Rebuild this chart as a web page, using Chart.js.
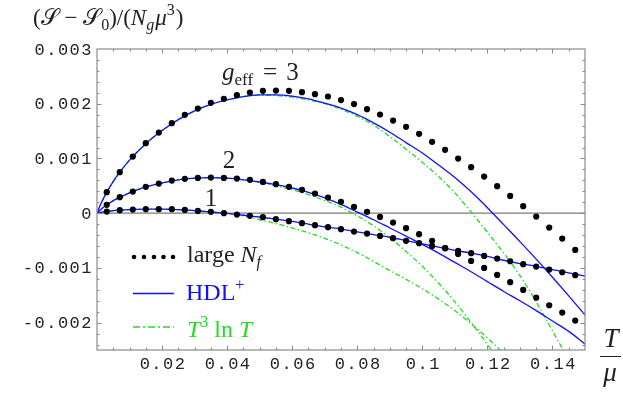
<!DOCTYPE html>
<html>
<head>
<meta charset="utf-8">
<script src="https://cdn.jsdelivr.net/npm/chart.js@4.4.1/dist/chart.umd.min.js"></script>
<style>
html, body { margin: 0; padding: 0; background: #fff; }
</style>
</head>
<body>
<canvas id="Graph" width="623" height="394"></canvas>
<script>
// T/mu values of the large-Nf points
const dotT = [0.003, 0.007, 0.011, 0.015, 0.019, 0.023, 0.027, 0.031, 0.035, 0.039,
              0.043, 0.047, 0.051, 0.055, 0.059, 0.063, 0.067, 0.071, 0.075, 0.079,
              0.083, 0.087, 0.091, 0.095, 0.099, 0.103, 0.107, 0.111, 0.115, 0.119,
              0.123, 0.127, 0.131, 0.135, 0.139, 0.143, 0.147];

// large Nf, g_eff = 3, 2, 1
const largeNf3 = [0.000384, 0.00075, 0.001035, 0.00128, 0.001473, 0.001645, 0.001797, 0.001912, 0.002016, 0.00209,
                  0.002157, 0.002205, 0.002236, 0.002241, 0.002236, 0.002212, 0.002175, 0.002132, 0.002066, 0.001993,
                  0.001901, 0.001803, 0.001693, 0.001578, 0.00145, 0.001303, 0.001157, 0.000998, 0.000841, 0.000669,
                  0.000494, 0.000316, 0.000128, -0.000062, -0.000263, -0.000464, -0.000671];
const largeNf2 = [0.000152, 0.000293, 0.000395, 0.000481, 0.000541, 0.000596, 0.000627, 0.000645, 0.000651, 0.000645,
                  0.000633, 0.000609, 0.000572, 0.00053, 0.000481, 0.000426, 0.000358, 0.000285, 0.000207, 0.000115,
                  0.000024, -0.000068, -0.000172, -0.000274, -0.000384, -0.000506, -0.00064, -0.000744, -0.000872, -0.001,
                  -0.001128, -0.001261, -0.001402, -0.001543, -0.001682, -0.001817, -0.001963];
const largeNf1 = [0.000029, 0.000055, 0.000066, 0.000073, 0.000073, 0.000073, 0.00006, 0.000042, 0.000024, 0.0,
                  -0.000026, -0.000049, -0.000073, -0.00011, -0.000146, -0.000183, -0.000219, -0.000256, -0.000293, -0.000336,
                  -0.000373, -0.000415, -0.000457, -0.000506, -0.000548, -0.000598, -0.00064, -0.000689, -0.000731, -0.000781,
                  -0.00083, -0.000878, -0.000932, -0.000976, -0.001031, -0.001079, -0.001133];

// sample points of the HDL+ and T^3 ln T curves
const curveT = [0, 0.001, 0.002, 0.003, 0.005, 0.007, 0.01, 0.015, 0.02, 0.025,
                0.03, 0.035, 0.04, 0.045, 0.05, 0.055, 0.06, 0.065, 0.07, 0.075,
                0.08, 0.085, 0.09, 0.095, 0.1, 0.105, 0.11, 0.115, 0.12, 0.125,
                0.13, 0.135, 0.14, 0.145, 0.15];

const hdl3 = [0, 0.00015, 0.00027, 0.00038, 0.00058, 0.00075, 0.00097, 0.00127, 0.00151, 0.00171,
              0.00187, 0.00199, 0.00207, 0.00213, 0.00216, 0.00216, 0.00214, 0.00209, 0.00201, 0.00192,
              0.0018, 0.00165, 0.00148, 0.00129, 0.0011, 0.00088, 0.00065, 0.00039, 0.0001, -0.00021,
              -0.00052, -0.00084, -0.00117, -0.00151, -0.00186];
const hdl2 = [0, 0.00006, 0.00011, 0.00015, 0.00023, 0.00029, 0.00037, 0.00048, 0.00055, 0.00061,
              0.00064, 0.00065, 0.00064, 0.00061, 0.00057, 0.00052, 0.00046, 0.00038, 0.00028, 0.00016,
              0.00002, -0.00012, -0.00027, -0.00042, -0.00057, -0.00073, -0.0009, -0.00107, -0.00125, -0.00143,
              -0.0016, -0.00178, -0.00197, -0.00216, -0.00239];
const hdl1 = [0, 0.000012, 0.000022, 0.00003, 0.000045, 0.000055, 0.000065, 0.000073, 0.000073, 0.000066,
              0.000047, 0.000024, -0.000005, -0.000038, -0.00007, -0.00011, -0.00015, -0.0002, -0.00025, -0.00029,
              -0.00034, -0.00039, -0.00044, -0.0005, -0.00056, -0.00062, -0.00068, -0.00073, -0.00079, -0.00086,
              -0.00092, -0.00097, -0.00103, -0.00109, -0.00115];

const tlog3 = [0, 0.00015, 0.00027, 0.00038, 0.00058, 0.00075, 0.00097, 0.00127, 0.00151, 0.00171,
               0.00187, 0.00199, 0.00207, 0.00213, 0.00216, 0.00215, 0.00212, 0.00207, 0.002, 0.0019,
               0.00177, 0.00161, 0.0014, 0.00117, 0.00093, 0.00067, 0.00037, 0.00002, -0.00035, -0.00073,
               -0.00114, -0.00162, -0.00215, -0.00268, null];
const tlog2 = [0, 0.00006, 0.00011, 0.00015, 0.00023, 0.00029, 0.00037, 0.00048, 0.00055, 0.00061,
               0.00064, 0.00065, 0.00064, 0.00061, 0.00056, 0.0005, 0.00043, 0.00034, 0.00023, 0.00011,
               -0.00005, -0.00023, -0.00045, -0.0007, -0.00097, -0.00128, -0.00162, -0.002, -0.0024, -0.00283,
               null, null, null, null, null];
const tlog1 = [0, 0.000012, 0.000022, 0.00003, 0.000045, 0.000055, 0.000065, 0.000073, 0.000073, 0.000066,
               0.000047, 0.000024, -0.000005, -0.00005, -0.00012, -0.00019, -0.00027, -0.00036, -0.00046, -0.00058,
               -0.00072, -0.00088, -0.00105, -0.00121, -0.00138, -0.00157, -0.00178, -0.00202, -0.00228, -0.00256,
               null, null, null, null, null];

// axis ticks
const xTicks = [0.02, 0.04, 0.06, 0.08, 0.1, 0.12, 0.14];
const xTickLabels = ['0.02', '0.04', '0.06', '0.08', '0.1', '0.12', '0.14'];
const yTicks = [-0.002, -0.001, 0, 0.001, 0.002, 0.003];
const yTickLabels = ['-0.002', '-0.001', '0', '0.001', '0.002', '0.003'];

const SERIF = '"Liberation Serif", "DejaVu Serif", serif';
const MONO = '"Liberation Mono", "DejaVu Sans Mono", monospace';
const BLUE = '#1010ff';
const GREEN = '#22dd22';

function pts(xs, ys) {
    return xs.map((x, i) => ({ x: x, y: ys[i] }));
}

// draws a run of text pieces one after the other
function drawRich(ctx, x, y, parts, color) {
    ctx.fillStyle = color;
    ctx.textBaseline = 'alphabetic';
    ctx.textAlign = 'left';
    for (const p of parts) {
        ctx.font = p.f;
        ctx.fillText(p.t, x + (p.dx || 0), y + (p.dy || 0));
        x += ctx.measureText(p.t).width + (p.dx || 0);
    }
}

const framePlugin = {
    id: 'frame',
    beforeDatasetsDraw(chart) {
        const ctx = chart.ctx;
        const a = chart.chartArea;
        const ys = chart.scales.y;
        ctx.save();
        ctx.strokeStyle = '#7a7a7a';
        ctx.lineWidth = 1.3;
        const y0 = ys.getPixelForValue(0);
        ctx.beginPath();
        ctx.moveTo(a.left, y0);
        ctx.lineTo(a.right, y0);
        ctx.stroke();
        ctx.restore();
    },
    afterDraw(chart) {
        const ctx = chart.ctx;
        const a = chart.chartArea;
        const xs = chart.scales.x;
        const ys = chart.scales.y;
        ctx.save();

        // frame
        ctx.strokeStyle = '#8a8a8a';
        ctx.lineWidth = 1.2;
        ctx.strokeRect(a.left, a.top, a.right - a.left, a.bottom - a.top);

        // tick marks on all four sides, pointing inward
        ctx.lineWidth = 1;
        ctx.beginPath();
        for (let i = 1; i < 30; i++) {
            const v = i * 0.005;
            const px = Math.round(xs.getPixelForValue(v)) + 0.5;
            const len = (i % 4 === 0) ? 4.5 : 2.5;
            ctx.moveTo(px, a.bottom); ctx.lineTo(px, a.bottom - len);
            ctx.moveTo(px, a.top); ctx.lineTo(px, a.top + len);
        }
        for (let i = -12; i < 15; i++) {
            const v = i * 0.0002;
            const py = Math.round(ys.getPixelForValue(v)) + 0.5;
            const len = (i % 5 === 0) ? 4.5 : 2.5;
            ctx.moveTo(a.left, py); ctx.lineTo(a.left + len, py);
            ctx.moveTo(a.right, py); ctx.lineTo(a.right - len, py);
        }
        ctx.stroke();

        // tick labels
        ctx.fillStyle = '#222';
        ctx.font = '17px ' + MONO;
        ctx.letterSpacing = '1.5px';
        ctx.textBaseline = 'middle';
        ctx.textAlign = 'right';
        yTicks.forEach((v, i) => {
            ctx.fillText(yTickLabels[i], 93, ys.getPixelForValue(v) + 1);
        });
        ctx.textAlign = 'center';
        xTicks.forEach((v, i) => {
            ctx.fillText(xTickLabels[i], xs.getPixelForValue(v) + 1, a.bottom + 14);
        });
        ctx.letterSpacing = '0px';

        // y axis title
        const f23 = '23px ' + SERIF, i23 = 'italic 23px ' + SERIF;
        const f16t = '16px ' + SERIF, i16t = 'italic 16px ' + SERIF;
        drawRich(ctx, 33, 25, [
            { t: '(', f: f23 }, { t: '\u{1D4AE}', f: f23 }, { t: ' \u2212 ', f: f23 },
            { t: '\u{1D4AE}', f: f23 }, { t: '0', f: f16t, dy: 5 }, { t: ')/(', f: f23 },
            { t: 'N', f: i23 }, { t: 'g', f: i16t, dy: 5 }, { t: '\u03BC', f: i23, dx: 1 },
            { t: '3', f: f16t, dy: -10 }, { t: ')', f: f23, dx: 1 }
        ], '#222');

        // x axis title T / mu
        ctx.fillStyle = '#222';
        ctx.font = 'italic 27px ' + SERIF;
        ctx.textAlign = 'center';
        ctx.textBaseline = 'alphabetic';
        ctx.fillText('T', 611, 347);
        ctx.fillText('\u03BC', 610, 381);
        ctx.strokeStyle = '#222';
        ctx.lineWidth = 1;
        ctx.beginPath();
        ctx.moveTo(600, 356.5); ctx.lineTo(621, 356.5);
        ctx.stroke();

        // curve labels
        const f25 = '25px ' + SERIF, i25 = 'italic 25px ' + SERIF, f17 = '17px ' + SERIF;
        drawRich(ctx, 222, 80, [
            { t: 'g', f: i25 }, { t: 'eff', f: f17, dy: 5 }, { t: '=', f: f25, dx: 10 }, { t: '3', f: f25, dx: 9 }
        ], '#222');
        ctx.font = f25;
        ctx.textAlign = 'center';
        ctx.fillText('2', 229, 168);
        ctx.fillText('1', 211, 206);

        // legend
        const f24 = '24px ' + SERIF, i24 = 'italic 24px ' + SERIF, f16 = '16px ' + SERIF, i16 = 'italic 16px ' + SERIF;
        ctx.fillStyle = '#000';
        [134, 144, 154, 163.5, 173].forEach(px => {
            ctx.beginPath();
            ctx.arc(px, 257, 2.3, 0, Math.PI * 2);
            ctx.fill();
        });
        drawRich(ctx, 187, 262, [
            { t: 'large ', f: f24 }, { t: 'N', f: i24 }, { t: 'f', f: i16, dy: 5 }
        ], '#222');

        ctx.strokeStyle = BLUE;
        ctx.lineWidth = 1.3;
        ctx.beginPath();
        ctx.moveTo(133, 293.5); ctx.lineTo(174, 293.5);
        ctx.stroke();
        drawRich(ctx, 186, 300, [
            { t: 'HDL', f: f24 }, { t: '+', f: f16, dy: -10 }
        ], BLUE);

        ctx.strokeStyle = GREEN;
        ctx.setLineDash([7, 3, 2, 3]);
        ctx.beginPath();
        ctx.moveTo(133, 327); ctx.lineTo(174, 327);
        ctx.stroke();
        ctx.setLineDash([]);
        drawRich(ctx, 187, 337, [
            { t: 'T', f: i24 }, { t: '3', f: f16, dy: -10 }, { t: ' ln ', f: f24 }, { t: 'T', f: i24 }
        ], GREEN);

        ctx.restore();
    }
};

function curve(ys, color, dashed) {
    return {
        data: pts(curveT, ys),
        showLine: true,
        borderColor: color,
        borderWidth: 1.3,
        borderDash: dashed ? [5, 2.5, 1.5, 2.5] : [],
        pointRadius: 0,
        cubicInterpolationMode: 'monotone',
        spanGaps: false,
        order: dashed ? 3 : 2
    };
}

function dots(ys) {
    return {
        data: pts(dotT, ys),
        showLine: false,
        pointRadius: 3.1,
        pointBackgroundColor: '#000',
        pointBorderWidth: 0,
        order: 1
    };
}

const ctx = document.getElementById('Graph').getContext('2d');
new Chart(ctx, {
    type: 'scatter',
    data: {
        datasets: [
            dots(largeNf3), dots(largeNf2), dots(largeNf1),
            curve(hdl3, BLUE, false), curve(hdl2, BLUE, false), curve(hdl1, BLUE, false),
            curve(tlog3, GREEN, true), curve(tlog2, GREEN, true), curve(tlog1, GREEN, true)
        ]
    },
    options: {
        responsive: false,
        animation: false,
        devicePixelRatio: 1,
        layout: { padding: { left: 97, top: 49, right: 38, bottom: 44 } },
        plugins: { legend: { display: false }, tooltip: { enabled: false } },
        scales: {
            x: { type: 'linear', min: 0, max: 0.15, display: false },
            y: { type: 'linear', min: -0.0025, max: 0.003, display: false }
        }
    },
    plugins: [framePlugin]
});
</script>
</body>
</html>
